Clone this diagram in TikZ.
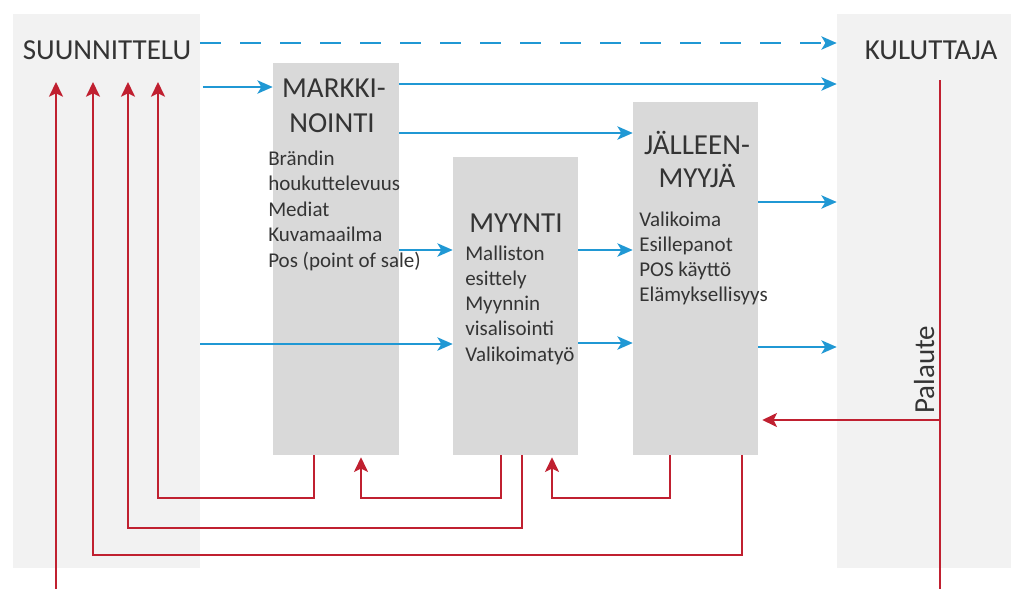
\documentclass[tikz,border=0pt]{standalone}
\usepackage{fontspec}
\setmainfont{Carlito}
\usetikzlibrary{arrows.meta, fit}

\definecolor{flowblue}{RGB}{32,152,212}
\definecolor{backred}{RGB}{192,32,48}
\definecolor{panelgray}{RGB}{242,242,242}
\definecolor{stagegray}{RGB}{217,217,217}
\definecolor{inkgray}{RGB}{52,52,52}

\begin{document}
\begin{tikzpicture}[x=0.75pt, y=-0.75pt,
    panel/.style={fill=panelgray, inner sep=0pt},
    stage/.style={fill=stagegray, inner sep=0pt},
    head/.style={font=\fontsize{21.75}{26}\selectfont, text=inkgray, inner sep=0pt, anchor=base},
    item/.style={font=\fontsize{15.75}{19}\selectfont, text=inkgray, inner sep=0pt, anchor=base west},
    flow/.style={flowblue, line width=1.5pt, -{Stealth[length=11.5pt, width=10pt, inset=3pt]}},
    back/.style={backred, line width=1.3pt, -{Stealth[length=11pt, width=10.5pt, inset=2.5pt]}}]

    % --- Page ---
    \fill[white] (0,0) rectangle (1011,589);
    \useasboundingbox (0,0) rectangle (1011,589);

    % --- Panels and stages ---
    \node[panel, fit={(13,14) (200,568)}] (plan) {};
    \node[panel, fit={(837,14) (1011,568)}] (cons) {};

    \node[stage, fit={(273,63) (399,455)}] (mark) {};    % Markkinointi
    \node[stage, fit={(453,157) (578,455)}] (sales) {};  % Myynti
    \node[stage, fit={(633,102) (758,455)}] (retail) {}; % Jälleenmyyjä

    % --- Headings ---
    \node[head] (plantext) at (107,59) {SUUNNITTELU};
    \node[head] (constext) at (931,59) {KULUTTAJA};
    \node[head] (marktop) at (334,97) {MARKKI-};
    \node[head] (markbot) at (332,132) {NOINTI};
    \node[head] (salestop) at (516,232) {MYYNTI};
    \node[head] (retailtop) at (697,154) {JÄLLEEN-};
    \node[head] (retailbot) at (697,187) {MYYJÄ};

    % --- Lists in the stages ---
    \foreach \t [count=\i] in {Brändin, houkuttelevuus, Mediat, Kuvamaailma, Pos (point of sale)}
        \node[item] (mark-\i) at (268,{165+25.5*(\i-1)}) {\t};
    \foreach \t [count=\i] in {Malliston, esittely, Myynnin, visalisointi, Valikoimatyö}
        \node[item] (sales-\i) at (465,{260+25.3*(\i-1)}) {\t};
    \foreach \t [count=\i] in {Valikoima, Esillepanot, POS käyttö, Elämyksellisyys}
        \node[item] (retail-\i) at (639,{226+25.3*(\i-1)}) {\t};

    % --- Forward flow (blue) ---
    \draw[flow, dash pattern=on 15.75pt off 14.25pt] (plan.east |- 0,43) -- (cons.west |- 0,43);
    \draw[flow] ([xshift=2pt]plan.east |- 0,87) -- (mark.west |- 0,87);
    \draw[flow] (mark.east |- 0,84) -- (cons.west |- 0,84);
    \draw[flow] (mark.east |- 0,133) -- (retail.west |- 0,133);
    \draw[flow] (mark.east |- 0,250) -- (sales.west |- 0,250);
    \draw[flow] (plan.east |- 0,344) -- (sales.west |- 0,344);
    \draw[flow] (sales.east |- 0,250) -- (retail.west |- 0,250);
    \draw[flow] (sales.east |- 0,343) -- (retail.west |- 0,343);
    \draw[flow] (retail.east |- 0,202) -- (cons.west |- 0,202);
    \draw[flow] (retail.east |- 0,347) -- (cons.west |- 0,347);

    % --- Feedback (red) ---
    \coordinate (up1) at (56,82);
    \coordinate (up2) at (93,82);
    \coordinate (up3) at (128,82);
    \coordinate (up4) at (158,82);
    \coordinate (low1) at (56,589);
    \coordinate (fbtop) at (940,80);
    \coordinate (fbbot) at (940,589);
    \coordinate (fbmid) at (940,420);

    \draw[back] (mark.south -| 314,0) -- (314,498) -| (up4);
    \draw[back] (sales.south -| 501,0) -- (501,498) -| ([yshift=-1.5pt]mark.south -| 361,0);
    \draw[back] (retail.south -| 670,0) -- (670,498) -| ([yshift=-1.5pt]sales.south -| 552,0);
    \draw[back] (sales.south -| 522,0) -- (522,528) -| (up3);
    \draw[back] (retail.south -| 742,0) -- (742,555) -| (up2);
    \draw[back] (low1) -- (up1);

    \draw[backred, line width=1.3pt] (fbtop) -- (fbbot);
    \draw[back] (fbmid) -- ([xshift=3pt]retail.east |- fbmid);
    \node[head, anchor=base west, rotate=90] (feedback) at (934,414) {Palaute};

\end{tikzpicture}
\end{document}
